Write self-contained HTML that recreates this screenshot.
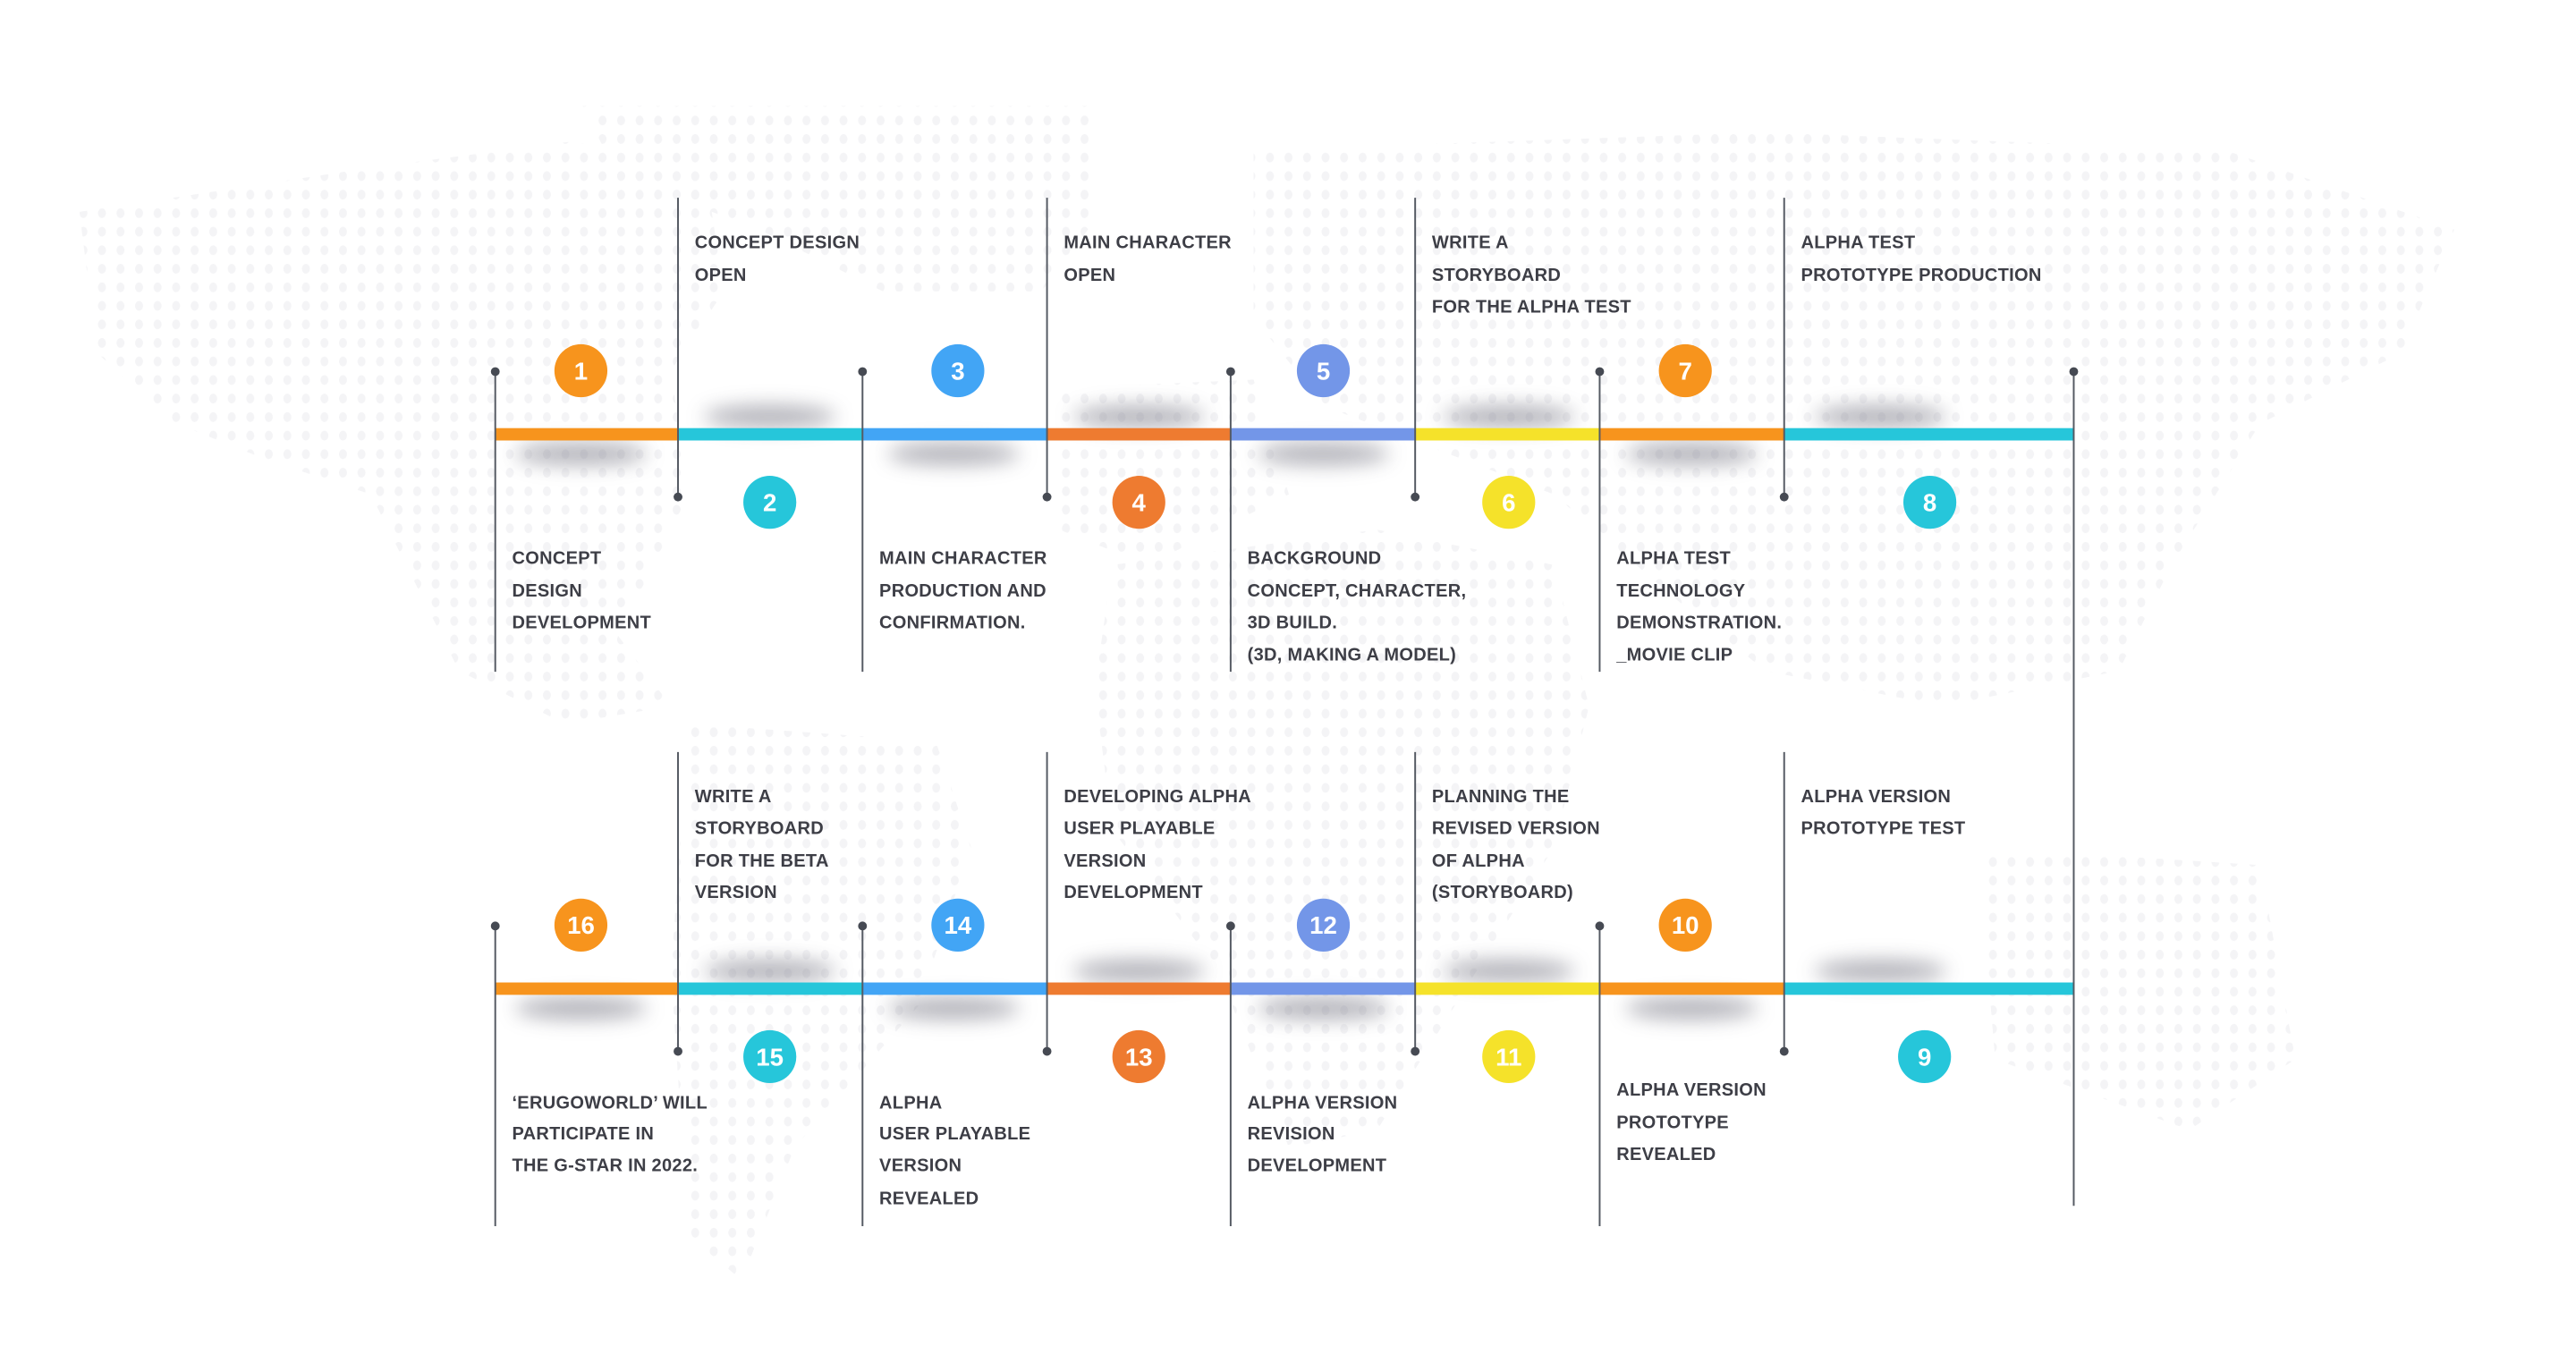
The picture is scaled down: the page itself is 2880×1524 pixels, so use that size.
<!DOCTYPE html>
<html><head><meta charset="utf-8"><style>
html,body{margin:0;padding:0;background:#fff;}
svg{display:block;}
text{font-family:"Liberation Sans",sans-serif;font-weight:bold;}
.t{font-size:20.3px;fill:#3d3e46;letter-spacing:0.3px;}
.n{font-size:28px;fill:#fff;text-anchor:middle;}
</style></head><body>
<svg width="2880" height="1524" viewBox="0 0 2880 1524" xmlns="http://www.w3.org/2000/svg">
<defs>
<pattern id="dots" width="21" height="21" patternUnits="userSpaceOnUse">
<ellipse cx="10.5" cy="10.5" rx="4.5" ry="5.5" fill="#f4f4f6"/>
</pattern>
<filter id="bl" x="-50%" y="-150%" width="200%" height="400%"><feGaussianBlur stdDeviation="11"/></filter>
</defs>
<g transform="scale(0.987)">
<g fill="url(#dots)">
<polygon points="90,240 420,190 650,160 800,200 820,330 760,420 780,560 700,720 760,800 640,820 520,760 460,640 420,560 300,520 200,480 110,400"/>
<polygon points="660,120 1240,120 1240,250 1180,330 1000,330 860,260 700,200"/>
<polygon points="780,820 1060,840 1100,960 1040,1140 900,1300 840,1450 780,1400 760,1100"/>
<polygon points="1420,170 2000,150 2520,170 2780,260 2720,400 2560,480 2460,640 2400,760 2200,800 2000,760 1900,680 1760,560 1500,460 1420,360"/>
<polygon points="1260,640 1560,600 1760,640 1800,800 1760,960 1660,1120 1560,1280 1460,1300 1380,1100 1260,940 1240,780"/>
<polygon points="2240,960 2560,980 2600,1200 2480,1280 2260,1200"/>
<polygon points="1200,440 1420,430 1460,560 1300,640 1200,600"/>
</g>
<g fill="#6b6b78" opacity="0.5" filter="url(#bl)">
<ellipse cx="658" cy="514" rx="75" ry="13"/>
<ellipse cx="872" cy="472" rx="75" ry="13"/>
<ellipse cx="1080" cy="514" rx="75" ry="13"/>
<ellipse cx="1290" cy="472" rx="75" ry="13"/>
<ellipse cx="1499" cy="514" rx="75" ry="13"/>
<ellipse cx="1709" cy="472" rx="75" ry="13"/>
<ellipse cx="1916" cy="514" rx="75" ry="13"/>
<ellipse cx="2130" cy="472" rx="75" ry="13"/>
<ellipse cx="658" cy="1142" rx="75" ry="13"/>
<ellipse cx="872" cy="1100" rx="75" ry="13"/>
<ellipse cx="1080" cy="1142" rx="75" ry="13"/>
<ellipse cx="1290" cy="1100" rx="75" ry="13"/>
<ellipse cx="1499" cy="1142" rx="75" ry="13"/>
<ellipse cx="1709" cy="1100" rx="75" ry="13"/>
<ellipse cx="1916" cy="1142" rx="75" ry="13"/>
<ellipse cx="2130" cy="1100" rx="75" ry="13"/>
</g>
<g>
<rect x="561" y="485" width="207" height="14" fill="#F7941D"/>
<rect x="768" y="485" width="209" height="14" fill="#26C6DA"/>
<rect x="977" y="485" width="209" height="14" fill="#42A5F5"/>
<rect x="1186" y="485" width="208" height="14" fill="#EE7B30"/>
<rect x="1394" y="485" width="209" height="14" fill="#7396E8"/>
<rect x="1603" y="485" width="209" height="14" fill="#F5E22A"/>
<rect x="1812" y="485" width="209" height="14" fill="#F7941D"/>
<rect x="2021" y="485" width="328" height="14" fill="#26C6DA"/>
<rect x="561" y="1113" width="207" height="14" fill="#F7941D"/>
<rect x="768" y="1113" width="209" height="14" fill="#26C6DA"/>
<rect x="977" y="1113" width="209" height="14" fill="#42A5F5"/>
<rect x="1186" y="1113" width="208" height="14" fill="#EE7B30"/>
<rect x="1394" y="1113" width="209" height="14" fill="#7396E8"/>
<rect x="1603" y="1113" width="209" height="14" fill="#F5E22A"/>
<rect x="1812" y="1113" width="209" height="14" fill="#F7941D"/>
<rect x="2021" y="1113" width="328" height="14" fill="#26C6DA"/>
</g>
<g stroke="#555a63" stroke-width="2">
<line x1="561" y1="421" x2="561" y2="761"/>
<line x1="977" y1="421" x2="977" y2="761"/>
<line x1="1394" y1="421" x2="1394" y2="761"/>
<line x1="1812" y1="421" x2="1812" y2="761"/>
<line x1="2349" y1="421" x2="2349" y2="1366"/>
<line x1="768" y1="224" x2="768" y2="563"/>
<line x1="1186" y1="224" x2="1186" y2="563"/>
<line x1="1603" y1="224" x2="1603" y2="563"/>
<line x1="2021" y1="224" x2="2021" y2="563"/>
<line x1="561" y1="1049" x2="561" y2="1389"/>
<line x1="977" y1="1049" x2="977" y2="1389"/>
<line x1="1394" y1="1049" x2="1394" y2="1389"/>
<line x1="1812" y1="1049" x2="1812" y2="1389"/>
<line x1="768" y1="852" x2="768" y2="1191"/>
<line x1="1186" y1="852" x2="1186" y2="1191"/>
<line x1="1603" y1="852" x2="1603" y2="1191"/>
<line x1="2021" y1="852" x2="2021" y2="1191"/>
</g>
<g fill="#464a53">
<circle cx="561" cy="421" r="5"/><circle cx="977" cy="421" r="5"/><circle cx="1394" cy="421" r="5"/><circle cx="1812" cy="421" r="5"/><circle cx="2349" cy="421" r="5"/>
<circle cx="768" cy="563" r="5"/><circle cx="1186" cy="563" r="5"/><circle cx="1603" cy="563" r="5"/><circle cx="2021" cy="563" r="5"/>
<circle cx="561" cy="1049" r="5"/><circle cx="977" cy="1049" r="5"/><circle cx="1394" cy="1049" r="5"/><circle cx="1812" cy="1049" r="5"/>
<circle cx="768" cy="1191" r="5"/><circle cx="1186" cy="1191" r="5"/><circle cx="1603" cy="1191" r="5"/><circle cx="2021" cy="1191" r="5"/>
</g>
<g>
<circle cx="658" cy="420" r="30" fill="#F7941D"/><text class="n" x="658" y="430">1</text>
<circle cx="1085" cy="420" r="30" fill="#42A5F5"/><text class="n" x="1085" y="430">3</text>
<circle cx="1499" cy="420" r="30" fill="#7396E8"/><text class="n" x="1499" y="430">5</text>
<circle cx="1909" cy="420" r="30" fill="#F7941D"/><text class="n" x="1909" y="430">7</text>
<circle cx="872" cy="569" r="30" fill="#26C6DA"/><text class="n" x="872" y="579">2</text>
<circle cx="1290" cy="569" r="30" fill="#EE7B30"/><text class="n" x="1290" y="579">4</text>
<circle cx="1709" cy="569" r="30" fill="#F5E22A"/><text class="n" x="1709" y="579">6</text>
<circle cx="2186" cy="569" r="30" fill="#26C6DA"/><text class="n" x="2186" y="579">8</text>
<circle cx="658" cy="1048" r="30" fill="#F7941D"/><text class="n" x="658" y="1058">16</text>
<circle cx="1085" cy="1048" r="30" fill="#42A5F5"/><text class="n" x="1085" y="1058">14</text>
<circle cx="1499" cy="1048" r="30" fill="#7396E8"/><text class="n" x="1499" y="1058">12</text>
<circle cx="1909" cy="1048" r="30" fill="#F7941D"/><text class="n" x="1909" y="1058">10</text>
<circle cx="872" cy="1197" r="30" fill="#26C6DA"/><text class="n" x="872" y="1207">15</text>
<circle cx="1290" cy="1197" r="30" fill="#EE7B30"/><text class="n" x="1290" y="1207">13</text>
<circle cx="1709" cy="1197" r="30" fill="#F5E22A"/><text class="n" x="1709" y="1207">11</text>
<circle cx="2180" cy="1197" r="30" fill="#26C6DA"/><text class="n" x="2180" y="1207">9</text>
</g>
<g>
<text class="t" x="787" y="281">CONCEPT DESIGN</text><text class="t" x="787" y="318">OPEN</text>
<text class="t" x="1205" y="281">MAIN CHARACTER</text><text class="t" x="1205" y="318">OPEN</text>
<text class="t" x="1622" y="281">WRITE A</text><text class="t" x="1622" y="318">STORYBOARD</text><text class="t" x="1622" y="354">FOR THE ALPHA TEST</text>
<text class="t" x="2040" y="281">ALPHA TEST</text><text class="t" x="2040" y="318">PROTOTYPE PRODUCTION</text>
<text class="t" x="580" y="639">CONCEPT</text><text class="t" x="580" y="676">DESIGN</text><text class="t" x="580" y="712">DEVELOPMENT</text>
<text class="t" x="996" y="639">MAIN CHARACTER</text><text class="t" x="996" y="676">PRODUCTION AND</text><text class="t" x="996" y="712">CONFIRMATION.</text>
<text class="t" x="1413" y="639">BACKGROUND</text><text class="t" x="1413" y="676">CONCEPT, CHARACTER,</text><text class="t" x="1413" y="712">3D BUILD.</text><text class="t" x="1413" y="748">(3D, MAKING A MODEL)</text>
<text class="t" x="1831" y="639">ALPHA TEST</text><text class="t" x="1831" y="676">TECHNOLOGY</text><text class="t" x="1831" y="712">DEMONSTRATION.</text><text class="t" x="1831" y="748">_MOVIE CLIP</text>
<text class="t" x="787" y="909">WRITE A</text><text class="t" x="787" y="945">STORYBOARD</text><text class="t" x="787" y="982">FOR THE BETA</text><text class="t" x="787" y="1017">VERSION</text>
<text class="t" x="1205" y="909">DEVELOPING ALPHA</text><text class="t" x="1205" y="945">USER PLAYABLE</text><text class="t" x="1205" y="982">VERSION</text><text class="t" x="1205" y="1017">DEVELOPMENT</text>
<text class="t" x="1622" y="909">PLANNING THE</text><text class="t" x="1622" y="945">REVISED VERSION</text><text class="t" x="1622" y="982">OF ALPHA</text><text class="t" x="1622" y="1017">(STORYBOARD)</text>
<text class="t" x="2040" y="909">ALPHA VERSION</text><text class="t" x="2040" y="945">PROTOTYPE TEST</text>
<text class="t" x="580" y="1256">‘ERUGOWORLD’ WILL</text><text class="t" x="580" y="1291">PARTICIPATE IN</text><text class="t" x="580" y="1327">THE G-STAR IN 2022.</text>
<text class="t" x="996" y="1256">ALPHA</text><text class="t" x="996" y="1291">USER PLAYABLE</text><text class="t" x="996" y="1327">VERSION</text><text class="t" x="996" y="1364">REVEALED</text>
<text class="t" x="1413" y="1256">ALPHA VERSION</text><text class="t" x="1413" y="1291">REVISION</text><text class="t" x="1413" y="1327">DEVELOPMENT</text>
<text class="t" x="1831" y="1241">ALPHA VERSION</text><text class="t" x="1831" y="1278">PROTOTYPE</text><text class="t" x="1831" y="1314">REVEALED</text>
</g>
</g>
</svg>
</body></html>
